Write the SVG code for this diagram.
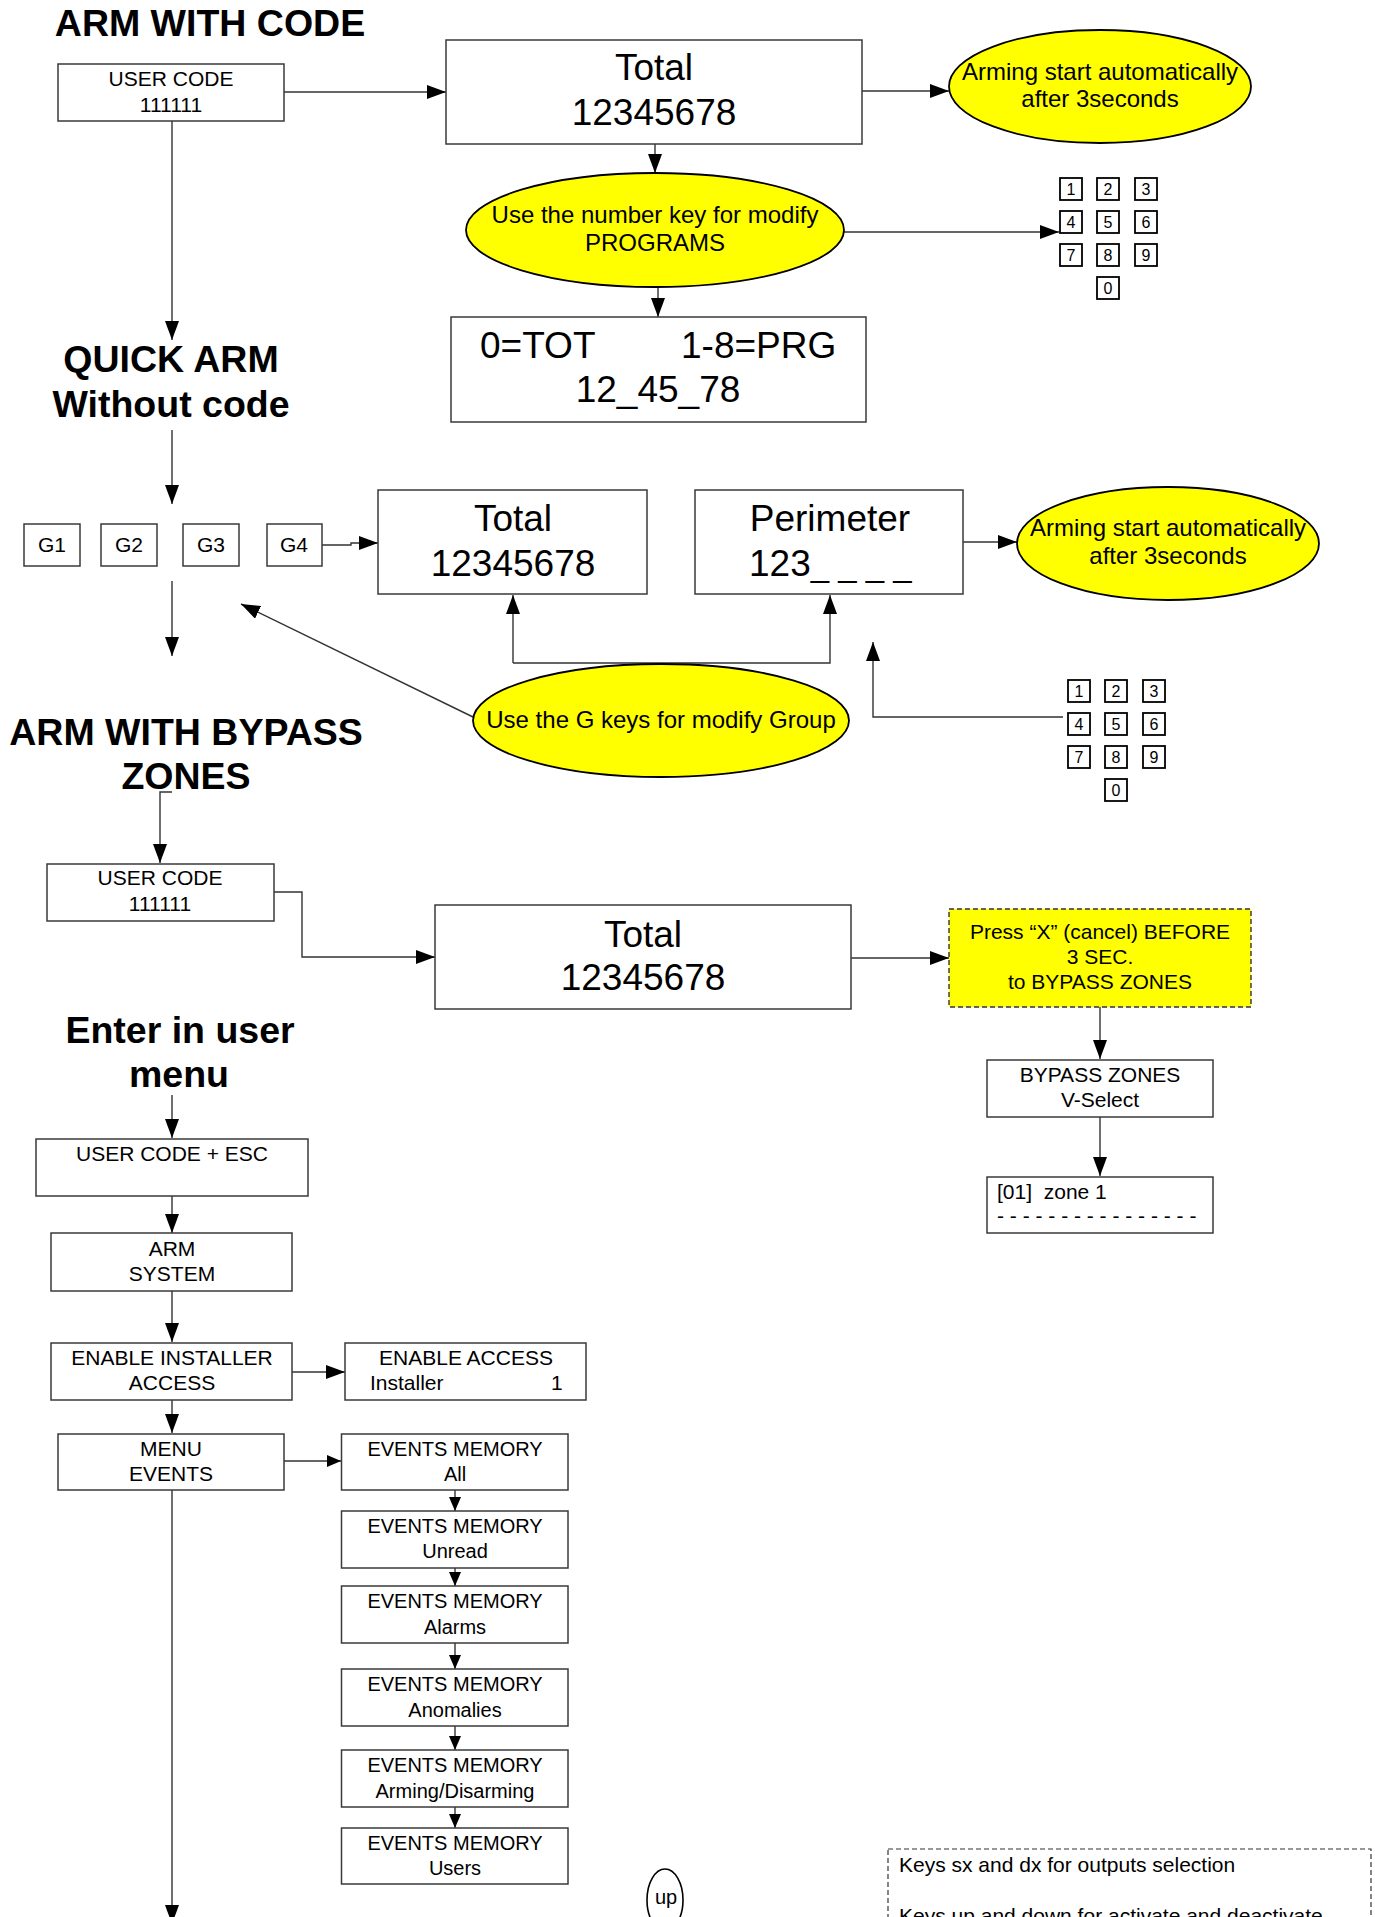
<svg xmlns="http://www.w3.org/2000/svg" width="1375" height="1917" viewBox="0 0 1375 1917">
<style>
text{font-family:"Liberation Sans",Arial,sans-serif;fill:#000}
.t{font-size:37.5px;font-weight:bold;text-anchor:middle}
.b{font-size:21px;text-anchor:middle}
.e{font-size:20px;text-anchor:middle}
.L{font-size:37px;text-anchor:middle}
.y{font-size:24px;text-anchor:middle}
.k{font-size:16px;text-anchor:middle}
.box{fill:#fff;stroke:#3a3a3a;stroke-width:1.5}
.key{fill:#fff;stroke:#000;stroke-width:1.8}
.ell{fill:#ffff00;stroke:#000;stroke-width:1.8}
.c path{fill:none;stroke:#333;stroke-width:1.4;marker-end:url(#a)}
.c path.s{marker-end:url(#s)}
</style>
<defs>
<marker id="a" markerWidth="19" markerHeight="14" refX="19" refY="7" orient="auto" markerUnits="userSpaceOnUse"><path d="M0,0 L19,7 L0,14 z" fill="#000"/></marker>
<marker id="s" markerWidth="14" markerHeight="12" refX="14" refY="6" orient="auto" markerUnits="userSpaceOnUse"><path d="M0,0 L14,6 L0,12 z" fill="#000"/></marker>
</defs>
<rect width="1375" height="1917" fill="#fff"/>

<g id="titles">
<text class="t" x="210" y="36">ARM WITH CODE</text>
<text class="t" x="171" y="372">QUICK ARM</text>
<text class="t" x="171" y="417">Without code</text>
<text class="t" x="186" y="745">ARM WITH BYPASS</text>
<text class="t" x="186" y="789">ZONES</text>
<text class="t" x="180" y="1043">Enter in user</text>
<text class="t" x="179" y="1087">menu</text>
</g>

<g class="c" id="connectors">
<path d="M284,92 H446"/>
<path d="M862,91 H949"/>
<path d="M655,144 V173"/>
<path d="M843,232 H1059"/>
<path d="M658,287 V317"/>
<path d="M172,121 V340"/>
<path d="M172,430 V504"/>
<path d="M322,545 H351 V543 H378"/>
<path d="M963,542 H1017"/>
<path d="M513,663 V595"/>
<path d="M513,663 H830 V595"/>
<path d="M473,717 L241,604"/>
<path d="M1063,717 H873 V642"/>
<path d="M172,581 V656"/>
<path d="M172,792 H160 V863"/>
<path d="M274,892 H302 V957 H435"/>
<path d="M851,958 H949"/>
<path d="M1100,1007 V1059"/>
<path d="M1100,1117 V1176"/>
<path d="M172,1095 V1138"/>
<path d="M172,1196 V1233"/>
<path d="M172,1291 V1342"/>
<path d="M292,1372 H345"/>
<path d="M172,1400 V1433"/>
<path class="s" d="M284,1461 H341"/>
<path class="s" d="M455,1490 V1511"/>
<path class="s" d="M455,1568 V1586"/>
<path class="s" d="M455,1643 V1669"/>
<path class="s" d="M455,1726 V1750"/>
<path class="s" d="M455,1807 V1828"/>
<path d="M172,1490 V1924"/>
</g>

<g id="user-code-1"><rect class="box" x="58" y="64" width="226" height="57"/><text class="b" x="171" y="86">USER CODE</text><text class="b" x="171" y="112">111111</text></g>
<g id="total-1"><rect class="box" x="446" y="40" width="416" height="104"/><text class="L" x="654" y="80">Total</text><text class="L" x="654" y="125">12345678</text></g>
<g id="arming-1"><ellipse class="ell" cx="1100" cy="86.5" rx="151" ry="56.5"/><text class="y" x="1100" y="80">Arming start automatically</text><text class="y" x="1100" y="107">after 3seconds</text></g>
<g id="number-keys-note"><ellipse class="ell" cx="655" cy="230" rx="189" ry="57"/><text class="y" x="655" y="223">Use the number key for modify</text><text class="y" x="655" y="251">PROGRAMS</text></g>
<g id="prg-box"><rect class="box" x="451" y="317" width="415" height="105"/><text class="L" x="480" y="358" style="text-anchor:start">0=TOT</text><text class="L" x="681" y="358" style="text-anchor:start">1-8=PRG</text><text class="L" x="658" y="402">12_45_78</text></g>

<g id="keypad-1">
<rect class="key" x="1060" y="178" width="22" height="22"/><text class="k" x="1071" y="195">1</text>
<rect class="key" x="1097" y="178" width="22" height="22"/><text class="k" x="1108" y="195">2</text>
<rect class="key" x="1135" y="178" width="22" height="22"/><text class="k" x="1146" y="195">3</text>
<rect class="key" x="1060" y="211" width="22" height="22"/><text class="k" x="1071" y="228">4</text>
<rect class="key" x="1097" y="211" width="22" height="22"/><text class="k" x="1108" y="228">5</text>
<rect class="key" x="1135" y="211" width="22" height="22"/><text class="k" x="1146" y="228">6</text>
<rect class="key" x="1060" y="244" width="22" height="22"/><text class="k" x="1071" y="261">7</text>
<rect class="key" x="1097" y="244" width="22" height="22"/><text class="k" x="1108" y="261">8</text>
<rect class="key" x="1135" y="244" width="22" height="22"/><text class="k" x="1146" y="261">9</text>
<rect class="key" x="1097" y="277" width="22" height="22"/><text class="k" x="1108" y="294">0</text>
</g>

<g id="g1"><rect class="box" x="24" y="524" width="56" height="42"/><text class="b" x="52" y="552">G1</text></g>
<g id="g2"><rect class="box" x="101" y="524" width="56" height="42"/><text class="b" x="129" y="552">G2</text></g>
<g id="g3"><rect class="box" x="183" y="524" width="56" height="42"/><text class="b" x="211" y="552">G3</text></g>
<g id="g4"><rect class="box" x="267" y="524" width="55" height="42"/><text class="b" x="294" y="552">G4</text></g>
<g id="total-2"><rect class="box" x="378" y="490" width="269" height="104"/><text class="L" x="513" y="531">Total</text><text class="L" x="513" y="576">12345678</text></g>
<g id="perimeter"><rect class="box" x="695" y="490" width="268" height="104"/><text class="L" x="830" y="531">Perimeter</text><text class="L" x="749" y="576" style="text-anchor:start;white-space:pre">123<tspan style="font-size:33px">_ _ _ _</tspan></text></g>
<g id="arming-2"><ellipse class="ell" cx="1168" cy="543.5" rx="151" ry="56.5"/><text class="y" x="1168" y="536">Arming start automatically</text><text class="y" x="1168" y="564">after 3seconds</text></g>
<g id="g-keys-note"><ellipse class="ell" cx="661" cy="720.5" rx="188" ry="56.5"/><text class="y" x="661" y="728">Use the G keys for modify Group</text></g>

<g id="keypad-2">
<rect class="key" x="1068" y="680" width="22" height="22"/><text class="k" x="1079" y="697">1</text>
<rect class="key" x="1105" y="680" width="22" height="22"/><text class="k" x="1116" y="697">2</text>
<rect class="key" x="1143" y="680" width="22" height="22"/><text class="k" x="1154" y="697">3</text>
<rect class="key" x="1068" y="713" width="22" height="22"/><text class="k" x="1079" y="730">4</text>
<rect class="key" x="1105" y="713" width="22" height="22"/><text class="k" x="1116" y="730">5</text>
<rect class="key" x="1143" y="713" width="22" height="22"/><text class="k" x="1154" y="730">6</text>
<rect class="key" x="1068" y="746" width="22" height="22"/><text class="k" x="1079" y="763">7</text>
<rect class="key" x="1105" y="746" width="22" height="22"/><text class="k" x="1116" y="763">8</text>
<rect class="key" x="1143" y="746" width="22" height="22"/><text class="k" x="1154" y="763">9</text>
<rect class="key" x="1105" y="779" width="22" height="22"/><text class="k" x="1116" y="796">0</text>
</g>

<g id="user-code-2"><rect class="box" x="47" y="864" width="227" height="57"/><text class="b" x="160" y="885">USER CODE</text><text class="b" x="160" y="911">111111</text></g>
<g id="total-3"><rect class="box" x="435" y="905" width="416" height="104"/><text class="L" x="643" y="947">Total</text><text class="L" x="643" y="990">12345678</text></g>
<g id="press-x"><rect x="949" y="909" width="302" height="98" fill="#ffff00" stroke="#333" stroke-width="1.4" stroke-dasharray="5,3"/><text class="b" x="1100" y="939">Press “X” (cancel) BEFORE</text><text class="b" x="1100" y="964">3 SEC.</text><text class="b" x="1100" y="989">to BYPASS ZONES</text></g>
<g id="bypass-zones"><rect class="box" x="987" y="1060" width="226" height="57"/><text class="b" x="1100" y="1082">BYPASS ZONES</text><text class="b" x="1100" y="1107">V-Select</text></g>
<g id="zone-1"><rect class="box" x="987" y="1177" width="226" height="56"/><text class="b" x="997" y="1199" style="text-anchor:start;white-space:pre">[01]  zone 1</text><text class="b" x="997" y="1223" style="text-anchor:start;white-space:pre">- - - - - - - - - - - - - - - -</text></g>

<g id="user-code-esc"><rect class="box" x="36" y="1139" width="272" height="57"/><text class="b" x="172" y="1161">USER CODE + ESC</text></g>
<g id="arm-system"><rect class="box" x="51" y="1233" width="241" height="58"/><text class="b" x="172" y="1256">ARM</text><text class="b" x="172" y="1281">SYSTEM</text></g>
<g id="enable-installer"><rect class="box" x="51" y="1343" width="241" height="57"/><text class="b" x="172" y="1365">ENABLE INSTALLER</text><text class="b" x="172" y="1390">ACCESS</text></g>
<g id="enable-access"><rect class="box" x="345" y="1343" width="241" height="57"/><text class="b" x="466" y="1365">ENABLE ACCESS</text><text class="b" x="370" y="1390" style="text-anchor:start">Installer</text><text class="b" x="551" y="1390" style="text-anchor:start">1</text></g>
<g id="menu-events"><rect class="box" x="58" y="1434" width="226" height="56"/><text class="b" x="171" y="1456">MENU</text><text class="b" x="171" y="1481">EVENTS</text></g>
<g id="ev-all"><rect class="box" x="341.5" y="1434" width="226.5" height="56"/><text class="e" x="455" y="1456">EVENTS MEMORY</text><text class="e" x="455" y="1481">All</text></g>
<g id="ev-unread"><rect class="box" x="341.5" y="1511" width="226.5" height="57"/><text class="e" x="455" y="1533">EVENTS MEMORY</text><text class="e" x="455" y="1558">Unread</text></g>
<g id="ev-alarms"><rect class="box" x="341.5" y="1586" width="226.5" height="57"/><text class="e" x="455" y="1608">EVENTS MEMORY</text><text class="e" x="455" y="1634">Alarms</text></g>
<g id="ev-anomalies"><rect class="box" x="341.5" y="1669" width="226.5" height="57"/><text class="e" x="455" y="1691">EVENTS MEMORY</text><text class="e" x="455" y="1717">Anomalies</text></g>
<g id="ev-arming"><rect class="box" x="341.5" y="1750" width="226.5" height="57"/><text class="e" x="455" y="1772">EVENTS MEMORY</text><text class="e" x="455" y="1798">Arming/Disarming</text></g>
<g id="ev-users"><rect class="box" x="341.5" y="1828" width="226.5" height="56"/><text class="e" x="455" y="1850">EVENTS MEMORY</text><text class="e" x="455" y="1875">Users</text></g>

<g id="up-key"><ellipse cx="665" cy="1900" rx="18" ry="31" fill="#fff" stroke="#000" stroke-width="1.6"/><text class="e" x="666" y="1904">up</text></g>
<g id="keys-note"><rect x="888" y="1849" width="483" height="100" fill="none" stroke="#333" stroke-width="1.2" stroke-dasharray="5,3"/><text class="b" x="899" y="1872" style="text-anchor:start">Keys sx and dx for outputs selection</text><text class="b" x="899" y="1923" style="text-anchor:start">Keys up and down for activate and deactivate</text></g>
</svg>
